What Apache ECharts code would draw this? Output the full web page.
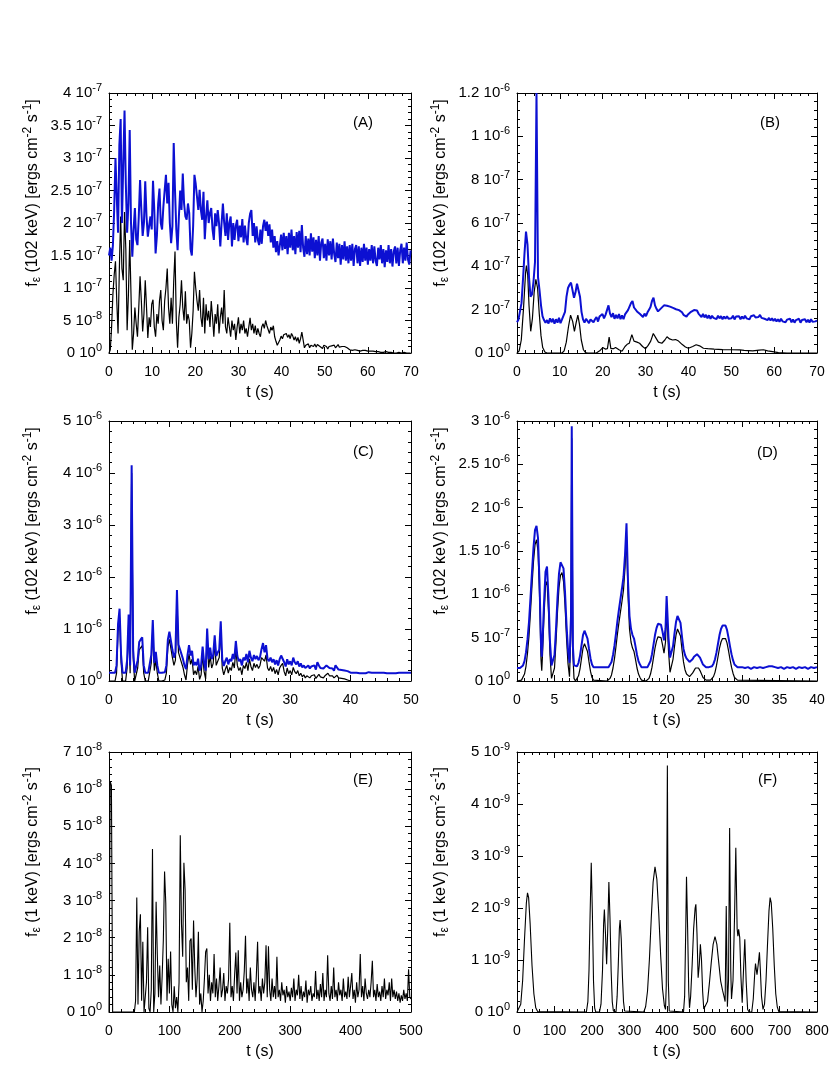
<!DOCTYPE html>
<html>
<head>
<meta charset="utf-8">
<title>Light curves</title>
<script src="https://cdn.jsdelivr.net/npm/echarts/dist/echarts.min.js"></script>
<style>
  html, body { margin: 0; padding: 0; background: #fff; }
  #chart { width: 830px; height: 1085px; }
</style>
</head>
<body>
<div id="chart"></div>
<script>
// ---- data (y values in units of each panel's scale, t in seconds) ----

// (A) 102 keV, sampled every 0.3 s, units 1e-7
const aStep = 0.3;
const aBlue = [
  1.5,1.62,1.42,1.65,2.2,3.0,2.4,1.85,3.2,3.6,
  2.0,2.9,3.73,2.6,1.85,2.3,3.43,2.0,1.48,1.9,
  2.23,1.75,1.66,2.1,2.66,2.2,1.8,2.0,2.64,2.1,
  1.79,1.95,2.1,1.9,2.65,2.2,1.53,1.8,2.3,2.53,
  2.0,1.9,2.25,2.5,2.74,2.3,2.62,2.0,1.69,1.95,
  3.23,2.5,1.9,1.58,2.1,2.5,2.2,2.76,2.3,2.1,
  2.05,2.3,2.15,1.6,1.5,1.95,2.74,2.6,2.4,2.2,
  2.51,2.2,2.05,2.48,1.75,2.1,2.35,2.0,2.15,2.23,
  1.9,1.74,2.15,1.95,2.2,2.0,1.64,2.0,2.3,2.0,
  1.8,2.15,1.74,2.0,2.1,1.64,2.0,1.74,1.96,2.05,
  1.72,1.96,1.78,2.06,1.7,1.96,1.76,1.66,2.0,2.14,
  2.2,1.8,2.0,1.7,1.95,1.74,1.66,1.9,1.68,1.95,
  2.05,1.88,2.02,1.8,1.98,1.7,1.9,1.62,1.8,1.55,
  1.72,1.5,1.66,1.82,1.58,1.85,1.6,1.8,1.52,1.85,
  1.62,1.9,1.58,1.8,1.52,1.86,1.62,1.88,1.55,1.97,
  1.62,1.48,1.8,1.52,1.76,1.5,1.84,1.56,1.78,1.46,
  1.74,1.5,1.8,1.42,1.7,1.76,1.46,1.68,1.42,1.75,
  1.5,1.72,1.44,1.76,1.52,1.4,1.7,1.46,1.68,1.36,
  1.66,1.44,1.72,1.42,1.64,1.38,1.66,1.42,1.68,1.34,
  1.6,1.66,1.38,1.64,1.34,1.62,1.4,1.68,1.42,1.62,
  1.36,1.6,1.42,1.66,1.38,1.64,1.42,1.34,1.62,1.44,
  1.66,1.38,1.6,1.32,1.58,1.4,1.66,1.38,1.6,1.33,
  1.56,1.64,1.38,1.62,1.34,1.58,1.68,1.38,1.62,1.42,
  1.7,1.44,1.36,1.58
];
const aBlack = [
  0,0.05,0.4,0.9,1.2,1.41,0.8,0.3,1.3,2.1,
  1.3,1.12,2.17,1.6,0.35,0.9,1.74,0.9,0.05,0.3,
  0.7,0.45,0.25,0.7,1.18,0.8,0.33,0.6,1.12,0.7,
  0.23,0.55,0.4,0.75,0.82,0.4,0.25,0.6,0.45,0.8,
  0.97,0.5,0.35,0.8,1.0,1.3,0.7,0.45,0.85,0.45,
  1.1,1.56,0.5,0.08,0.55,0.75,1.12,0.7,0.5,0.95,
  0.45,0.6,0.5,0.08,0.3,0.65,1.25,1.0,0.8,0.65,
  0.97,0.55,0.4,0.85,0.3,0.75,0.5,0.65,0.4,0.8,
  0.55,0.25,0.6,0.45,0.75,0.3,0.55,0.7,0.45,0.97,
  0.4,0.3,0.55,0.4,0.25,0.5,0.35,0.45,0.2,0.4,
  0.55,0.3,0.45,0.35,0.5,0.3,0.38,0.25,0.4,0.54,
  0.35,0.45,0.3,0.42,0.28,0.38,0.3,0.25,0.4,0.45,
  0.38,0.5,0.42,0.45,0.3,0.4,0.35,0.42,0.25,0.18,
  0.12,0.15,0.2,0.26,0.22,0.28,0.25,0.3,0.24,0.28,
  0.22,0.3,0.26,0.2,0.25,0.18,0.24,0.15,0.22,0.32,
  0.2,0.08,0.12,0.1,0.14,0.08,0.12,0.15,0.1,0.14,
  0.09,0.13,0.15,0.1,0.12,0.07,0.12,0.14,0.1,0.06,
  0.1,0.08,0.11,0.09,0.12,0.08,0.1,0.13,0.09,0.12,
  0.1,0.13,0.1,0.11,0.08,0.07,0.05,0.06,0.04,0.06,
  0.05,0.06,0.04,0.05,0.03,0.05,0.04,0.03,0.04,0.02,
  0.03,0.02,0.03,0.02,0.03,0.02,0.02,0.01,0.02,0.02,
  0.01,0.02,0.01,0.01,0.02,0.01,0.01,0,0.01,0.01,
  0,0.01,0,0,0.01,0,0,0.02,0.01,0,
  0,0,0,0
];

// (B) 102 keV, blue every 0.35 s, units 1e-7
const bStep = 0.35;
const bBlue = [
  1.42,1.55,1.62,2.3,3.4,4.6,5.6,5.0,3.5,2.6,
  2.7,3.3,4.2,12.0,3.5,2.9,2.2,1.7,1.52,1.4,
  1.52,1.36,1.6,1.42,1.58,1.35,1.56,1.4,1.62,1.38,
  1.55,1.62,1.9,2.6,3.0,3.15,3.25,2.9,2.55,2.8,
  3.2,3.25,2.6,1.9,1.55,1.4,1.58,1.6,1.38,1.55,
  1.62,1.42,1.56,1.66,1.45,1.68,1.62,1.8,1.6,1.76,
  1.85,2.2,1.82,1.66,1.84,1.58,1.76,1.6,1.8,1.56,
  1.74,1.56,1.78,1.85,1.98,2.05,2.3,2.4,2.1,2.02,
  1.92,1.98,1.8,1.72,1.66,1.82,1.7,1.88,2.0,2.12,
  2.4,2.55,2.2,2.04,1.92,1.96,2.06,2.12,2.2,2.28,
  2.18,2.25,2.14,2.22,2.08,2.16,2.02,2.1,1.98,1.92,
  1.88,1.76,1.8,1.68,1.78,1.74,1.9,1.86,1.98,1.9,
  1.96,1.82,1.75,1.66,1.8,1.64,1.76,1.6,1.74,1.58,
  1.72,1.62,1.68,1.56,1.72,1.6,1.7,1.56,1.68,1.58,
  1.7,1.58,1.66,1.6,1.72,1.55,1.68,1.6,1.7,1.56,
  1.68,1.58,1.72,1.6,1.66,1.55,1.7,1.62,1.74,1.64,
  1.72,1.66,1.76,1.62,1.7,1.58,1.64,1.52,1.62,1.5,
  1.6,1.48,1.58,1.45,1.56,1.44,1.58,1.46,1.55,1.42,
  1.54,1.46,1.58,1.42,1.55,1.4,1.52,1.45,1.58,1.4,
  1.52,1.44,1.56,1.42,1.54,1.4,1.56,1.44,1.52,1.46,
  1.5
];
const bBlack = [
  [0,0],[0.5,0.1],[1.0,0.6],[1.5,2.0],[2.0,3.7],[2.2,4.03],[2.5,3.6],[2.8,2.2],[3.2,1.0],
  [3.6,1.6],[4.0,2.8],[4.4,3.4],[4.8,3.0],[5.2,1.8],[5.6,0.8],[6.0,0.25],[6.5,0.05],[7,0],
  [10.5,0],[11.0,0.1],[11.5,0.5],[12.0,1.2],[12.5,1.75],[13.0,1.45],[13.4,1.0],[13.8,1.4],
  [14.2,1.75],[14.6,1.3],[15.0,0.6],[15.5,0.15],[16.0,0.02],[16.5,0],
  [18.5,0],[19.3,0.1],[20,0.25],[20.6,0.18],[21.1,0.2],[21.5,0.74],[21.9,0.2],[22.5,0.2],
  [23,0.25],[23.8,0.15],[24.5,0.08],[25.2,0.3],[25.7,0.4],[26.2,0.45],[26.8,0.85],[27.3,0.55],
  [28.0,0.5],[28.6,0.45],[29.3,0.3],[30.0,0.2],[30.6,0.35],[31.2,0.55],[31.8,0.9],[32.4,0.7],
  [33.0,0.5],[33.8,0.45],[34.5,0.6],[35.0,0.75],[35.6,0.65],[36.3,0.6],[37.0,0.62],[37.7,0.55],
  [38.5,0.4],[39.3,0.28],[40.0,0.22],[41.0,0.3],[41.8,0.38],[42.6,0.33],[43.5,0.22],[44.5,0.2],
  [46,0.18],[48,0.16],[50,0.15],[52,0.14],[53,0.12],[55,0.1],[56.5,0.13],[57.5,0.15],
  [58.5,0.1],[60,0.05],[61,0.02],[62,0.01],[63,0],[70,0]
];

// (C) 102 keV, every 0.25 s, units 1e-6
const cStep = 0.25;
const cBlue = [
  0.16,0.15,0.16,0.15,0.16,0.3,1.1,1.39,
  0.5,0.16,0.15,0.16,0.4,1.28,0.3,4.15,
  0.6,0.16,0.17,0.4,0.75,0.8,0.84,0.3,
  0.16,0.15,0.16,0.17,0.5,1.17,0.35,0.56,
  0.3,0.16,0.15,0.16,0.15,0.17,0.3,0.8,
  0.95,0.98,0.6,0.45,0.55,1.75,0.7,0.61,
  0.64,0.42,0.3,0.23,0.5,0.69,0.49,0.58,
  0.3,0.36,0.3,0.43,0.2,0.3,0.66,0.35,
  0.2,1.01,0.42,0.64,0.42,0.5,0.88,0.48,
  0.55,0.6,1.15,0.42,0.29,0.38,0.45,0.32,
  0.42,0.38,0.52,0.42,0.77,0.48,0.38,0.42,
  0.3,0.45,0.4,0.52,0.36,0.58,0.45,0.38,
  0.5,0.42,0.48,0.4,0.46,0.61,0.73,0.55,
  0.69,0.42,0.38,0.45,0.36,0.42,0.32,0.4,
  0.3,0.42,0.49,0.52,0.36,0.28,0.42,0.32,
  0.38,0.3,0.45,0.36,0.32,0.38,0.28,0.34,
  0.26,0.3,0.25,0.28,0.3,0.24,0.28,0.25,
  0.3,0.22,0.36,0.3,0.25,0.28,0.24,0.27,
  0.3,0.33,0.25,0.22,0.24,0.2,0.3,0.28,
  0.22,0.2,0.21,0.19,0.2,0.18,0.19,0.17,
  0.16,0.15,0.16,0.15,0.16,0.17,0.15,0.16,
  0.15,0.16,0.15,0.16,0.17,0.15,0.16,0.15,
  0.16,0.15,0.16,0.15,0.16,0.15,0.16,0.17,
  0.15,0.16,0.15,0.16,0.15,0.16,0.15,0.17,
  0.16,0.15,0.16,0.15,0.16,0.15,0.16,0.15,
  0.16
];
const cBlack = [
  0,0,0,0,0,0.15,0.95,1.22,
  0.35,0,0,0,0.25,1.12,0.15,4.0,
  0.45,0,0.02,0.25,0.6,0.64,0.68,0.15,
  0,0,0,0.02,0.35,1.0,0.2,0.4,
  0.15,0,0,0,0,0.02,0.15,0.65,
  0.8,0.82,0.45,0.3,0.4,1.6,0.55,0.45,
  0.48,0.26,0.12,0.02,0.32,0.52,0.32,0.42,
  0.12,0.2,0.12,0.28,0.03,0.12,0.5,0.18,
  0.04,0.85,0.26,0.48,0.25,0.34,0.72,0.3,
  0.38,0.45,1.0,0.25,0.12,0.22,0.3,0.15,
  0.26,0.2,0.36,0.25,0.6,0.3,0.2,0.26,
  0.12,0.3,0.24,0.36,0.2,0.42,0.28,0.2,
  0.34,0.26,0.32,0.24,0.3,0.45,0.42,0.38,
  0.5,0.25,0.2,0.28,0.18,0.26,0.14,0.22,
  0.12,0.25,0.3,0.34,0.18,0.1,0.25,0.14,
  0.2,0.12,0.26,0.18,0.14,0.2,0.1,0.15,
  0.08,0.12,0.06,0.1,0.12,0.06,0.1,0.08,
  0.12,0.05,0.09,0.13,0.08,0.1,0.06,0.1,
  0.12,0.15,0.1,0.08,0.1,0.06,0.09,0.11,
  0.06,0.05,0.05,0.04,0.04,0.03,0.02,0.01,
  0
];

// (D) 102 keV, units 1e-6
const dBlue = [
  [0,0.15],[0.2,0.16],[0.4,0.15],[0.6,0.16],[0.8,0.18],[1.0,0.23],[1.2,0.33],[1.4,0.48],
  [1.6,0.68],[1.8,0.96],[2.0,1.26],[2.2,1.54],[2.4,1.74],[2.6,1.79],[2.8,1.65],[3.0,1.15],
  [3.2,0.42],[3.3,0.28],[3.4,0.45],[3.6,0.9],[3.8,1.26],[4.0,1.32],[4.2,0.96],[4.4,0.45],
  [4.6,0.18],[4.8,0.17],[5.0,0.3],[5.2,0.6],[5.4,0.96],[5.6,1.24],[5.8,1.37],[6.0,1.38],
  [6.2,1.3],[6.4,1.03],[6.6,0.65],[6.8,0.36],[7.0,0.21],[7.2,0.75],[7.3,2.94],[7.45,0.4],
  [7.6,0.18],[7.8,0.16],[8.0,0.17],[8.2,0.21],[8.4,0.29],[8.6,0.41],[8.8,0.53],[9.0,0.58],
  [9.2,0.57],[9.4,0.49],[9.6,0.37],[9.8,0.26],[10.0,0.19],[10.2,0.16],[10.4,0.15],[10.6,0.16],
  [10.8,0.15],[11.0,0.16],[11.2,0.15],[11.4,0.16],[11.6,0.15],[11.8,0.16],[12.0,0.15],[12.2,0.16],
  [12.4,0.18],[12.6,0.22],[12.8,0.3],[13.0,0.41],[13.2,0.55],[13.4,0.7],[13.6,0.83],[13.8,0.95],
  [14.0,1.07],[14.2,1.2],[14.4,1.45],[14.6,1.82],[14.8,1.15],[15.0,0.75],[15.2,0.6],[15.4,0.53],
  [15.6,0.49],[15.8,0.4],[16.0,0.3],[16.2,0.23],[16.4,0.19],[16.6,0.16],[16.8,0.15],[17.0,0.16],
  [17.2,0.15],[17.4,0.16],[17.6,0.18],[17.8,0.23],[18.0,0.31],[18.2,0.42],[18.4,0.53],[18.6,0.61],
  [18.8,0.66],[19.0,0.67],[19.2,0.65],[19.4,0.57],[19.6,0.47],[19.8,0.6],[19.95,0.98],[20.2,0.5],
  [20.4,0.27],[20.6,0.28],[20.8,0.4],[21.0,0.55],[21.2,0.68],[21.4,0.75],[21.6,0.77],[21.8,0.67],
  [22.0,0.51],[22.2,0.37],[22.4,0.3],[22.6,0.26],[22.8,0.24],[23.0,0.22],[23.2,0.23],[23.4,0.25],
  [23.6,0.28],[23.8,0.3],[24.0,0.31],[24.2,0.3],[24.4,0.27],[24.6,0.23],[24.8,0.19],[25.0,0.17],
  [25.2,0.16],[25.4,0.15],[25.6,0.16],[25.8,0.16],[26.0,0.17],[26.2,0.2],[26.4,0.25],[26.6,0.33],
  [26.8,0.43],[27.0,0.53],[27.2,0.6],[27.4,0.64],[27.6,0.65],[27.8,0.64],[28.0,0.59],[28.2,0.5],
  [28.4,0.4],[28.6,0.31],[28.8,0.24],[29.0,0.19],[29.2,0.17],[29.4,0.16],[29.6,0.15],[30,0.16],
  [30.4,0.15],[30.8,0.16],[31.2,0.14],[31.6,0.16],[32,0.15],[32.4,0.16],[32.8,0.15],[33.2,0.16],
  [33.6,0.17],[34,0.17],[34.4,0.16],[34.8,0.15],[35.2,0.16],[35.6,0.14],[36,0.16],[36.4,0.15],
  [36.8,0.16],[37.2,0.14],[37.6,0.16],[38,0.15],[38.4,0.16],[38.8,0.14],[39.2,0.16],[39.6,0.15],
  [40,0.16]
];
const dBlack = [
  [0,0],[0.6,0.01],[0.8,0.03],[1.0,0.08],[1.2,0.17],[1.4,0.32],[1.6,0.52],[1.8,0.8],
  [2.0,1.1],[2.2,1.38],[2.4,1.57],[2.6,1.63],[2.8,1.5],[3.0,1.0],[3.2,0.25],[3.3,0.12],
  [3.4,0.3],[3.6,0.75],[3.8,1.1],[4.0,1.15],[4.2,0.8],[4.4,0.3],[4.6,0.03],[4.8,0.02],
  [5.0,0.15],[5.2,0.45],[5.4,0.8],[5.6,1.08],[5.8,1.22],[6.0,1.25],[6.2,1.15],[6.4,0.88],
  [6.6,0.5],[6.8,0.2],[7.0,0.05],[7.2,0.6],[7.3,2.8],[7.45,0.3],[7.6,0.03],[7.8,0],
  [8.0,0.02],[8.2,0.06],[8.4,0.14],[8.6,0.26],[8.8,0.38],[9.0,0.43],[9.2,0.42],[9.4,0.34],
  [9.6,0.22],[9.8,0.11],[10.0,0.04],[10.2,0.01],[10.4,0],[12.0,0],[12.2,0.01],[12.4,0.03],
  [12.6,0.07],[12.8,0.15],[13.0,0.26],[13.2,0.4],[13.4,0.55],[13.6,0.68],[13.8,0.8],[14.0,0.92],
  [14.2,1.05],[14.4,1.3],[14.6,1.67],[14.8,1.0],[15.0,0.6],[15.2,0.45],[15.4,0.38],[15.6,0.34],
  [15.8,0.25],[16.0,0.15],[16.2,0.08],[16.4,0.04],[16.6,0.01],[16.8,0],[17.2,0],[17.4,0.01],
  [17.6,0.03],[17.8,0.08],[18.0,0.16],[18.2,0.27],[18.4,0.38],[18.6,0.46],[18.8,0.51],[19.0,0.52],
  [19.2,0.5],[19.4,0.42],[19.6,0.32],[19.8,0.45],[19.95,0.83],[20.2,0.35],[20.4,0.1],[20.6,0.12],
  [20.8,0.25],[21.0,0.4],[21.2,0.53],[21.4,0.6],[21.6,0.62],[21.8,0.52],[22.0,0.36],[22.2,0.22],
  [22.4,0.13],[22.6,0.08],[22.8,0.06],[23.0,0.05],[23.2,0.06],[23.4,0.09],[23.6,0.12],[23.8,0.15],
  [24.0,0.16],[24.2,0.15],[24.4,0.12],[24.6,0.08],[24.8,0.04],[25.0,0.02],[25.2,0.01],[25.4,0],
  [25.8,0.01],[26.0,0.02],[26.2,0.05],[26.4,0.1],[26.6,0.18],[26.8,0.28],[27.0,0.38],[27.2,0.45],
  [27.4,0.49],[27.6,0.5],[27.8,0.49],[28.0,0.44],[28.2,0.35],[28.4,0.25],[28.6,0.16],[28.8,0.09],
  [29.0,0.04],[29.2,0.02],[29.4,0.01],[29.6,0],[40,0]
];

// (E) 1 keV, every 2 s, units 1e-8
const eStep = 2;
const eBlack = [
  0,6.2,6.1,0,0,0,0,0,0,0,
  0.05,0,0,0,0,0,0,0,0,0,
  0,0,0.3,3.08,0.2,2.16,2.63,0.3,1.89,0,
  0,0.8,2.28,0.1,0,0.6,4.39,0,0.5,2.97,
  1.53,0.4,1.25,0.2,0.96,1.96,3.78,2.93,0.3,1.43,
  0.5,1.63,0.2,0,0.69,0.1,0.4,0,0.8,4.76,
  2.37,1.49,4.02,3.29,0.8,1.2,0.3,1.91,1.98,0.6,
  2.46,1.2,0.4,0.9,2.16,0.2,0.5,0,0.3,0.9,
  1.62,1.71,0.5,1.0,0.3,0.8,0.5,1.56,0.4,0.9,
  0.3,0.7,1.2,0.4,0.6,1.05,0.3,0.7,0.5,0.9,
  2.4,0.4,0.7,0.3,1.0,1.6,0.5,1.66,0.3,0.8,
  0.4,0.6,1.1,2.05,0.5,0.9,0.3,1.2,0.6,0.4,
  0.8,0.3,1.0,1.89,0.5,0.7,0.3,0.9,0.5,0.8,
  1.8,0.4,1.77,0.6,0.3,0.9,0.4,0.7,0.35,1.49,
  0.4,0.6,0.3,0.8,0.45,0.6,0.25,0.7,0.4,0.55,
  0.3,0.65,0.4,0.9,0.3,0.6,0.45,1.0,0.35,0.7,
  0.3,0.55,0.4,0.85,0.25,0.6,0.45,0.7,0.3,0.5,
  0.4,1.1,0.35,0.6,0.3,0.75,0.4,1.05,0.3,0.6,
  0.4,1.53,0.5,0.3,0.7,0.35,1.2,0.4,0.6,0.3,
  0.8,0.45,0.6,0.3,0.9,0.4,0.55,0.35,0.95,0.4,
  0.7,1.05,0.35,0.6,0.25,0.8,0.4,0.6,1.56,0.4,
  0.7,0.3,0.9,0.5,0.35,0.6,0.4,0.8,1.38,0.4,
  0.6,0.3,0.75,0.4,0.55,0.3,0.7,0.4,0.9,0.35,
  0.6,0.45,0.8,0.3,0.9,0.4,0.6,0.35,0.55,0.3,
  0.5,0.25,0.45,0.3,0.6,0.35,0.5,0.3,1.15,0.4,
  0.35
];

// (F) 1 keV, units 1e-9
const fBlack = [
  [0,0],[5,0.02],[10,0.15],[15,0.6],[20,1.4],[25,2.1],[28,2.29],[31,2.2],[35,1.7],[40,0.9],
  [45,0.35],[50,0.08],[55,0.01],[60,0],
  [185,0],[189,0.2],[192,0.8],[195,1.9],[198,2.87],[201,1.9],[204,0.6],[207,0.08],[210,0],
  [220,0],[224,0.15],[228,0.8],[231,1.7],[233,1.97],[236,1.5],[239,0.92],[242,1.6],[245,2.5],
  [248,1.8],[251,0.8],[254,0.2],[257,0.02],[264,0],[267,0.3],[270,0.9],[273,1.6],[275,1.77],
  [278,1.4],[281,0.7],[284,0.2],[287,0.02],[290,0],
  [338,0],[343,0.1],[348,0.4],[353,1.0],[358,1.8],[363,2.5],[368,2.79],[373,2.55],[378,1.9],
  [383,1.1],[388,0.45],[393,0.12],[396,0.05],[398,0.5],[401,4.74],[403.5,0.6],[406,0.02],
  [444,0],[447,0.3],[450,1.6],[452,2.6],[455,1.6],[458,0.4],[460,0.08],[463,0.3],[467,0.9],
  [471,1.6],[475,2.0],[477,2.07],[480,1.5],[483,0.66],[486,0.9],[489,1.3],[492,1.0],[495,0.4],
  [498,0.06],[503,0.03],[508,0.2],[513,0.55],[518,0.95],[523,1.3],[528,1.45],[533,1.3],
  [538,0.95],[543,0.6],[548,0.42],[552,0.3],[555,0.2],[558,2.04],[561,0.1],[564,0.6],
  [567,3.54],[570,0.8],[572,0.25],[576,0.6],[580,1.8],[583.5,3.16],[587,1.6],[589,1.46],
  [591,1.59],[594,1.43],[597,0.7],[600.5,0.18],[604,0.8],[607.5,1.4],[611,0.6],[615,0.05],
  [619,0],[626,0],[630,0.25],[634,0.75],[636,0.93],[640,0.72],[643,0.9],[646.5,1.15],
  [649,0.8],[652,0.3],[656,0.05],[660,0.15],[664,0.6],[668,1.3],[672,1.95],[675,2.2],
  [678,2.1],[682,1.6],[686,0.9],[690,0.35],[694,0.1],[698,0.01],[702,0],[800,0]
];

// ---- layout ----
const FONT = "'Liberation Sans', Arial, Helvetica, sans-serif";
const BLUE = '#0c10d2';

const panels = [
  { tag: '(A)', left: 109, top: 93,  width: 302, xMax: 70,  xInt: 10,  yMax: 4,  yInt: 0.5, scale: 1e-7, kev: '102', tagX: 353, tagY: 115 },
  { tag: '(B)', left: 517, top: 93,  width: 300, xMax: 70,  xInt: 10,  yMax: 12, yInt: 2,   scale: 1e-7, kev: '102', tagX: 760, tagY: 115 },
  { tag: '(C)', left: 109, top: 421, width: 302, xMax: 50,  xInt: 10,  yMax: 5,  yInt: 1,   scale: 1e-6, kev: '102', tagX: 353, tagY: 444 },
  { tag: '(D)', left: 517, top: 421, width: 300, xMax: 40,  xInt: 5,   yMax: 3,  yInt: 0.5, scale: 1e-6, kev: '102', tagX: 757, tagY: 445 },
  { tag: '(E)', left: 109, top: 752, width: 302, xMax: 500, xInt: 100, yMax: 7,  yInt: 1,   scale: 1e-8, kev: '1',   tagX: 353, tagY: 772 },
  { tag: '(F)', left: 517, top: 752, width: 300, xMax: 800, xInt: 100, yMax: 5,  yInt: 1,   scale: 1e-9, kev: '1',   tagX: 758, tagY: 772 }
];

function stepped(vals, step) {
  return vals.map(function (v, i) { return [Math.round(i * step * 1000) / 1000, v]; });
}

function sciLabel(scale) {
  return function (v) {
    const x = v * scale;
    if (Math.abs(x) < 1e-30) return '{m|0 10}{s|0}';
    const e = Math.floor(Math.log10(x) + 1e-9);
    const m = Math.round(x / Math.pow(10, e) * 100) / 100;
    return '{m|' + m + ' 10}{s|' + e + '}';
  };
}

const tickStyle = { inside: true, length: 6, lineStyle: { color: '#000', width: 1 } };
const minorStyle = { show: true, splitNumber: 5, length: 3, lineStyle: { color: '#000', width: 1 } };
const lineStyle = { onZero: false, lineStyle: { color: '#000', width: 1 } };

const grids = [], xAxes = [], yAxes = [], graphics = [];
panels.forEach(function (p, i) {
  grids.push({ left: p.left, top: p.top, width: p.width, height: 260, outerBoundsMode: 'none' });
  const xBase = {
    gridIndex: i, type: 'value', min: 0, max: p.xMax, interval: p.xInt,
    axisLine: lineStyle, axisTick: tickStyle, minorTick: minorStyle,
    splitLine: { show: false }
  };
  xAxes.push(Object.assign({}, xBase, {
    position: 'bottom',
    axisLabel: { margin: 12, fontSize: 14, color: '#000', fontFamily: FONT },
    name: 't (s)', nameLocation: 'middle', nameGap: 32,
    nameTextStyle: { fontSize: 16, color: '#000', fontFamily: FONT }
  }));
  xAxes.push(Object.assign({}, xBase, { position: 'top', axisLabel: { show: false } }));

  const yBase = {
    gridIndex: i, type: 'value', min: 0, max: p.yMax, interval: p.yInt,
    axisLine: lineStyle, axisTick: tickStyle, minorTick: minorStyle,
    splitLine: { show: false }
  };
  yAxes.push(Object.assign({}, yBase, {
    position: 'left',
    axisLabel: {
      margin: 7, color: '#000', formatter: sciLabel(p.scale),
      showMinLabel: true, showMaxLabel: true,
      rich: {
        m: { fontSize: 15, fontFamily: FONT, color: '#000' },
        s: { fontSize: 11, fontFamily: FONT, color: '#000', padding: [0, 0, 10, 0] }
      }
    },
    name: '{m|f}{sb|\u03b5}{m| (' + p.kev + ' keV) [ergs cm}{sp|-2}{m| s}{sp|-1}{m|]}',
    nameLocation: 'middle', nameRotate: 90, nameGap: 66, nameMoveOverlap: false,
    nameTextStyle: {
      color: '#000', padding: [0, 0, 0, 60],
      rich: {
        m: { fontSize: 16, fontFamily: FONT, color: '#000' },
        sb: { fontSize: 12, fontFamily: FONT, color: '#000', padding: [9, 0, 0, 0] },
        sp: { fontSize: 12, fontFamily: FONT, color: '#000', padding: [0, 0, 9, 0] }
      }
    }
  }));
  yAxes.push(Object.assign({}, yBase, { position: 'right', axisLabel: { show: false } }));

  graphics.push({
    type: 'text', left: p.tagX, top: p.tagY,
    style: { text: p.tag, fontSize: 15, fontFamily: FONT, fill: '#000' }
  });
});

function line(panel, data, color, width) {
  return {
    type: 'line', xAxisIndex: panel * 2, yAxisIndex: panel * 2,
    data: data, showSymbol: false, symbol: 'none', silent: true,
    sampling: null, clip: true,
    lineStyle: { color: color, width: width }
  };
}

const series = [
  line(0, stepped(aBlack, aStep), '#000', 1.2),
  line(0, stepped(aBlue, aStep), BLUE, 2),
  line(1, bBlack, '#000', 1.2),
  line(1, stepped(bBlue, bStep), BLUE, 2),
  line(2, stepped(cBlack, cStep), '#000', 1.2),
  line(2, stepped(cBlue, cStep), BLUE, 2),
  line(3, dBlack, '#000', 1.2),
  line(3, dBlue, BLUE, 2),
  line(4, stepped(eBlack, eStep), '#000', 1.1),
  line(5, fBlack, '#000', 1.1)
];

const chart = echarts.init(document.getElementById('chart'), null, { renderer: 'canvas' });
chart.setOption({
  backgroundColor: '#fff',
  animation: false,
  grid: grids,
  xAxis: xAxes,
  yAxis: yAxes,
  graphic: graphics,
  series: series
});
</script>
</body>
</html>
